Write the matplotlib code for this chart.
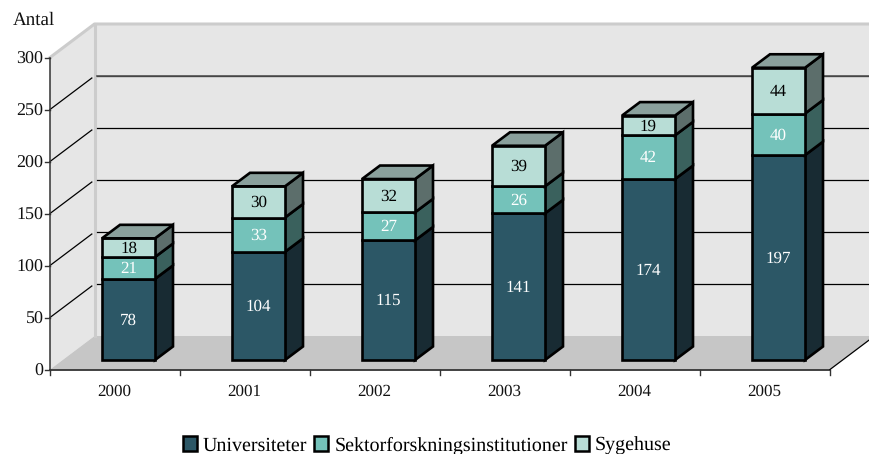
import numpy as np
import matplotlib
matplotlib.use('Agg')
import matplotlib.pyplot as plt
from matplotlib.patches import Polygon, Patch

years = ['2000', '2001', '2002', '2003', '2004', '2005']
universiteter = [78, 104, 115, 141, 174, 197]
sektor = [21, 33, 27, 26, 42, 40]
sygehuse = [18, 30, 32, 39, 19, 44]
y_ticks = [0, 50, 100, 150, 200, 250, 300]

series_names = ['Universiteter', 'Sektorforskningsinstitutioner', 'Sygehuse']
front_cols = ['#2c5766', '#74c2ba', '#b8ddd6']
side_cols = ['#182b33', '#3a615d', '#5c6e6b']
top_col = '#8aa09c'
label_cols = ['white', 'white', 'black']

plt.rcParams['font.family'] = ['Liberation Serif', 'DejaVu Serif']
plt.rcParams['text.hinting'] = 'none'
plt.rcParams['text.hinting_factor'] = 1

W, H = 869, 454
fig = plt.figure(figsize=(W / 100, H / 100), dpi=100)
# front plane of the 3d box, in pixels
left, right, top, bottom = 50, 830, 57.5, 369.5
ax = fig.add_axes([left / W, 1 - bottom / H, (right - left) / W, (bottom - top) / H])
ax.set_xlim(0, len(years))
ax.set_ylim(0, 300)
ax.axis('off')

# conversion pixels -> data
px = len(years) / (right - left)
py = 300 / (bottom - top)
depth_x, depth_y = 44.5 * px, 33.5 * py
bar_x, bar_y = 13.5 * px, 9.5 * py
bar_w = 53 * px
bar_dx, bar_dy = 18 * px, 13.5 * py
xmax = (W - left) * px


def poly(pts, fc, ec='none', lw=0, z=1):
    ax.add_patch(Polygon(pts, closed=True, fc=fc, ec=ec, lw=lw, zorder=z,
                         clip_on=False, joinstyle='miter'))


# walls and floor
frac = (xmax - 6) / depth_x
poly([(0, 0), (depth_x, depth_y), (depth_x, 300 + depth_y), (0, 300)], '#e6e6e6')
poly([(depth_x, depth_y), (xmax, depth_y), (xmax, 300 + depth_y), (depth_x, 300 + depth_y)], '#e6e6e6')
poly([(0, 0), (6, 0), (xmax, frac * depth_y), (xmax, depth_y), (depth_x, depth_y)], '#c6c6c6')
ax.plot([0, depth_x, depth_x, xmax], [300, 300 + depth_y, 300 + depth_y, 300 + depth_y],
        color='#cccccc', lw=2.2, clip_on=False, zorder=2)
ax.plot([depth_x, depth_x], [depth_y, 300 + depth_y], color='#cccccc', lw=2.2, clip_on=False, zorder=2)

# grid lines
for t in y_ticks[1:-1]:
    ax.plot([0, depth_x * 0.94], [t, t + depth_y * 0.94], color='black', lw=0.9, clip_on=False, zorder=2)
    ax.plot([depth_x * 1.06, xmax], [t + depth_y, t + depth_y], color='black', lw=0.9, clip_on=False, zorder=2)
ax.plot([depth_x * 1.06, xmax], [250 + depth_y, 250 + depth_y], color='#555555', lw=1.2, clip_on=False, zorder=2)

# axes lines and ticks
ax.plot([0, 0], [0, 300], color='#333333', lw=1.1, clip_on=False, zorder=3)
ax.plot([0, 6], [0, 0], color='#333333', lw=1.3, clip_on=False, zorder=3)
ax.plot([6, xmax], [0, frac * depth_y], color='black', lw=0.9, clip_on=False, zorder=3)
for t in y_ticks:
    ax.plot([-5 * px, 0], [t, t], color='#333333', lw=1, clip_on=False, zorder=3)
    ax.text(-6.5 * px, t - 1.8 * py, str(t), ha='right', va='center', fontsize=13, color='#111111')
for i in range(len(years) + 1):
    ax.plot([i, i], [0, -5.5 * py], color='#333333', lw=1, clip_on=False, zorder=3)
for i, y in enumerate(years):
    ax.text(i + 0.5 - 1 * px, -21.8 * py, y, ha='center', va='center', fontsize=12.5, color='#111111')
ax.text(-37 * px, 300 + 37 * py, 'Antal', ha='left', va='center', fontsize=14, color='#111111')

# stacked 3d bars
data = [universiteter, sektor, sygehuse]
lw_bar = 1.9
for i in range(len(years)):
    x0 = i + 0.5 - bar_w / 2 + bar_x
    x1 = x0 + bar_w
    base = 0
    for k, vals in enumerate(data):
        y0 = base + bar_y
        y1 = y0 + vals[i]
        z = 5 + k
        poly([(x1, y0), (x1 + bar_dx, y0 + bar_dy), (x1 + bar_dx, y1 + bar_dy), (x1, y1)],
             side_cols[k], 'black', lw_bar, z)
        poly([(x0, y0), (x1, y0), (x1, y1), (x0, y1)], front_cols[k], 'black', lw_bar, z)
        if k == 2:
            poly([(x0, y1), (x1, y1), (x1 + bar_dx, y1 + bar_dy), (x0 + bar_dx, y1 + bar_dy)],
                 top_col, 'black', lw_bar, z)
        ax.text((x0 + x1) / 2, (y0 + y1) / 2 - 1 * py, str(vals[i]), ha='center', va='center',
                fontsize=12, color=label_cols[k], zorder=10)
        base += vals[i]

handles = [Patch(fc=c, ec='black', lw=1.8) for c in front_cols]
fig.legend(handles, series_names, loc='center', bbox_to_anchor=(427 / W, 1 - 445.5 / H), ncol=3,
           frameon=False, fontsize=14.2, handlelength=0.72, handleheight=0.72,
           handletextpad=0.3, columnspacing=0.35, borderpad=0)

fig.savefig('out.png', dpi=100)
